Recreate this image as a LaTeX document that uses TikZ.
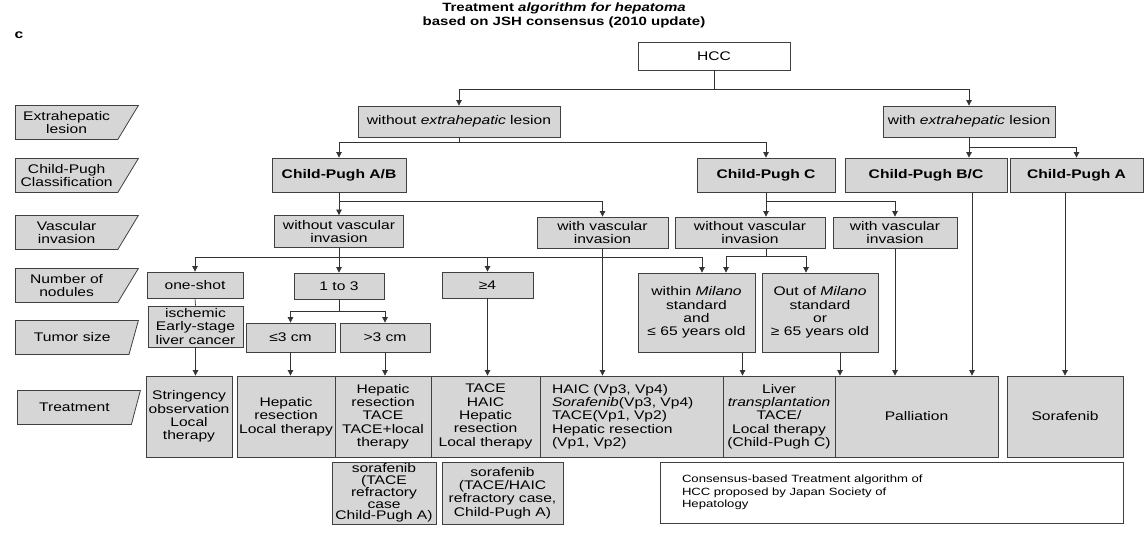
\documentclass[tikz,border=0pt]{standalone}
\usepackage{fontspec}
\setmainfont[FakeStretch=1.25]{Liberation Sans}
\usetikzlibrary{arrows.meta,shapes.geometric}
\begin{document}
\begin{tikzpicture}[x=1pt,y=-1pt,
  box/.style={draw=black!75,fill=gray!32,line width=0.8pt,align=center,inner sep=1pt,
    font=\fontsize{12.5}{13.3}\selectfont},
  wbox/.style={box,fill=white},
  rowlab/.style={trapezium,trapezium left angle=90,trapezium right angle=130,
    trapezium stretches body,draw=black!75,fill=gray!32,line width=0.8pt,align=center,
    minimum width=123,minimum height=34,inner sep=1pt,anchor=top left corner,
    font=\fontsize{12.5}{13.3}\selectfont},
  arr/.style={draw=black!80,line width=0.7pt,-{Triangle[length=5.5pt,width=5.5pt]}},
  ln/.style={draw=black!80,line width=0.7pt}]
\useasboundingbox (0,0) rectangle (1148,538);

\node[font=\bfseries\fontsize{12}{14}\selectfont,align=center] (title) at (564,15)
  {Treatment \textit{algorithm for hepatoma}\\based on JSH consensus (2010 update)};
\node[font=\bfseries\fontsize{12.5}{14}\selectfont] (panel) at (19,35) {c};

\node[rowlab] (lext) at (15,105) {Extrahepatic\\lesion};
\node[rowlab] (lcp) at (15,158) {Child-Pugh\\Classification};
\node[rowlab] (lvasc) at (15,215) {Vascular\\invasion};
\node[rowlab] (lnod) at (15,268) {Number of\\nodules};
\node[rowlab] (lsize) at (15,320) {Tumor size};
\node[rowlab] (ltreat) at (17,390) {Treatment};

\node[wbox,minimum width=152,minimum height=28] (hcc) at (714,56) {HCC};
\node[box,minimum width=202,minimum height=31] (noext) at (459,121.5) {without \textit{extrahepatic} lesion};
\node[box,minimum width=172,minimum height=31] (withext) at (969,121.5) {with \textit{extrahepatic} lesion};

\node[box,minimum width=134,minimum height=34] (cpab) at (339,175) {\textbf{Child-Pugh A/B}};
\node[box,minimum width=138,minimum height=34] (cpc) at (766,175) {\textbf{Child-Pugh C}};
\node[box,minimum width=162,minimum height=34] (cpbc) at (926,175) {\textbf{Child-Pugh B/C}};
\node[box,minimum width=133,minimum height=34] (cpa) at (1076.5,175) {\textbf{Child-Pugh A}};

\node[box,minimum width=129,minimum height=32] (nvab) at (339,231.5) {without vascular\\invasion};
\node[box,minimum width=131,minimum height=31] (vab) at (602.5,232.5) {with vascular\\invasion};
\node[box,minimum width=150,minimum height=31] (nvc) at (750,232.5) {without vascular\\invasion};
\node[box,minimum width=124,minimum height=31] (vc) at (895,232.5) {with vascular\\invasion};

\node[box,minimum width=96,minimum height=26] (oneshot) at (195,285) {one-shot};
\node[box,minimum width=90,minimum height=26] (one3) at (339,286) {1 to 3};
\node[box,minimum width=91,minimum height=26] (four) at (487.5,285) {≥4};
\node[box,minimum width=117,minimum height=79] (milin) at (696.5,312.5) {within \textit{Milano}\\standard\\and\\≤ 65 years old};
\node[box,minimum width=116,minimum height=79] (milout) at (820,312.5) {Out of \textit{Milano}\\standard\\or\\≥ 65 years old};

\node[box,minimum width=95,minimum height=41] (ischemic) at (195.5,326.5) {ischemic\\Early-stage\\liver cancer};
\node[box,minimum width=89,minimum height=29] (le3) at (290.5,337.5) {≤3 cm};
\node[box,minimum width=90,minimum height=29] (gt3) at (385,337.5) {>3 cm};

\node[box,minimum width=86,minimum height=81] (t1) at (189,416.5) {Stringency\\observation\\Local\\therapy};
\node[box,minimum width=98,minimum height=81] (t2) at (286,416.5) {Hepatic\\resection\\Local therapy};
\node[box,minimum width=96,minimum height=81] (t3) at (383,416.5) {Hepatic\\resection\\TACE\\TACE+local\\therapy};
\node[box,minimum width=109,minimum height=81] (t4) at (485.5,416.5) {TACE\\HAIC\\Hepatic\\resection\\Local therapy};
\node[box,minimum width=183,minimum height=81,text width=159,align=left,inner xsep=12] (t5) at (631.5,416.5)
  {HAIC (Vp3, Vp4)\\\textit{Sorafenib}(Vp3, Vp4)\\TACE(Vp1, Vp2)\\Hepatic resection\\(Vp1, Vp2)};
\node[box,minimum width=112,minimum height=81] (t6) at (779,416.5) {Liver\\\textit{transplantation}\\TACE/\\Local therapy\\(Child-Pugh C)};
\node[box,minimum width=163,minimum height=81] (t7) at (916.5,416.5) {Palliation};
\node[box,minimum width=116,minimum height=81] (t8) at (1065,416.5) {Sorafenib};

\node[box,minimum width=104,minimum height=62,inner sep=0pt,font=\fontsize{12.5}{11.8}\selectfont] (s1) at (384,493)
  {sorafenib\\(TACE\\refractory\\case\\Child-Pugh A)};
\node[box,minimum width=121,minimum height=62] (s2) at (502.5,493) {sorafenib\\(TACE/HAIC\\refractory case,\\Child-Pugh A)};
\node[wbox,minimum width=463,minimum height=61,text width=419,align=left,inner xsep=22,
  font=\fontsize{10.5}{12.5}\selectfont] (note) at (891.5,492.5)
  {Consensus-based Treatment algorithm of\\HCC proposed by Japan Society of\\Hepatology};

\draw[arr] (hcc.south) -- ++(0,19) -| (noext.north);
\draw[arr] (hcc.south) -- ++(0,19) -| (withext.north);
\draw[arr] (noext.south) -- ++(0,5) -| (cpab.north);
\draw[arr] (noext.south) -- ++(0,5) -| (cpc.north);
\draw[arr] (withext.south) -- (withext.south |- cpbc.north);
\draw[arr] (withext.south) -- ++(0,10) -| (cpa.north);

\draw[arr] (cpab.south) -- (nvab.north);
\draw[arr] (cpab.south) -- ++(0,9) -| (vab.north);
\draw[arr] (cpc.south) -- (cpc.south |- nvc.north);
\draw[arr] (cpc.south) -- ++(0,9) -| (vc.north);
\draw[arr] ([xshift=46]cpbc.south) -- ([xshift=46]cpbc.south |- t7.north);
\draw[arr] (cpa.south -| t8.north) -- (t8.north);

\draw[arr] (nvab.south) -- (one3.north);
\draw[arr] (nvab.south) -- ++(0,9) -| (oneshot.north);
\draw[arr] (nvab.south) -- ++(0,9) -| (four.north);
\draw[arr] (nvab.south) -- ++(0,9) -| ([xshift=5.5]milin.north);
\draw[arr] (vab.south) -- (vab.south |- t5.north);
\draw[arr] (cpc.south |- nvc.south) -- ++(0,8) -| ([xshift=29.5]milin.north);
\draw[arr] (cpc.south |- nvc.south) -- ++(0,8) -| ([xshift=-14]milout.north);
\draw[arr] (vc.south) -- (vc.south |- t7.north);

\draw[ln] (oneshot.south) -- (ischemic.north);
\draw[arr] (one3.south) -- ++(0,12) -| (le3.north);
\draw[arr] (one3.south) -- ++(0,12) -| (gt3.north);
\draw[arr] (ischemic.south) -- (ischemic.south |- t1.north);
\draw[arr] (le3.south) -- (le3.south |- t2.north);
\draw[arr] (gt3.south) -- (gt3.south |- t3.north);
\draw[arr] (four.south) -- (four.south |- t4.north);
\draw[arr] ([xshift=46]milin.south) -- ([xshift=46]milin.south |- t6.north);
\draw[arr] ([xshift=20]milout.south) -- ([xshift=20]milout.south |- t7.north);
\end{tikzpicture}
\end{document}
